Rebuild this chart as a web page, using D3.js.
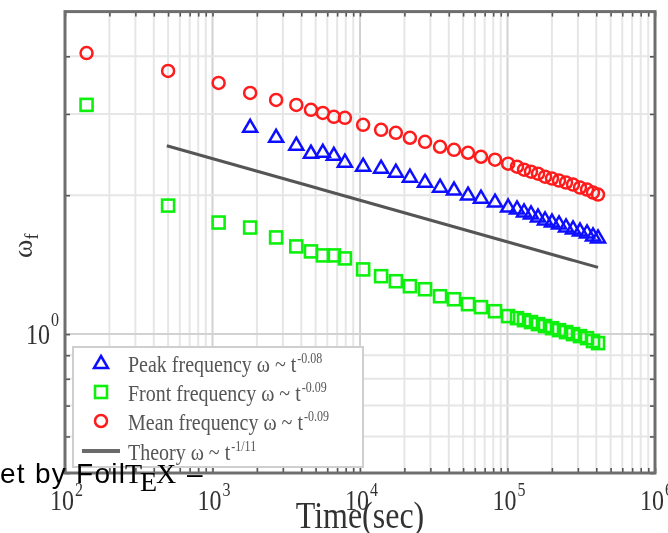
<!DOCTYPE html>
<html>
<head>
<script src="https://d3js.org/d3.v7.min.js"></script>
<style>
  body { margin: 0; background: #fff; }
</style>
</head>
<body>
<script>
// sample times (sec), shared by the three measured series
var time = [140, 500, 1100, 1800, 2700, 3700, 4650, 5600, 6650, 7900,
  10500, 13900, 17500, 21800, 27600, 34900, 43400, 54000, 66100, 82300,
  101000, 116000, 129400, 144300, 161000, 179600, 200300, 223500, 249300,
  278100, 310100, 346000, 379900, 410900];

// mean frequency (red circles)
var meanFreq = [4.066, 3.718, 3.502, 3.332, 3.218, 3.139, 3.062, 3.016, 2.957, 2.942,
  2.841, 2.772, 2.731, 2.664, 2.611, 2.547, 2.509, 2.472, 2.423, 2.388,
  2.341, 2.306, 2.272, 2.249, 2.227, 2.194, 2.173, 2.151, 2.130, 2.109,
  2.078, 2.057, 2.026, 2.006];

// front frequency (green squares)
var frontFreq = [3.139, 1.899, 1.745, 1.702, 1.620, 1.549, 1.511, 1.481, 1.481, 1.459,
  1.381, 1.335, 1.302, 1.270, 1.251, 1.208, 1.190, 1.161, 1.144, 1.121,
  1.094, 1.083, 1.072, 1.062, 1.051, 1.041, 1.030, 1.020, 1.010, 1.000,
  0.990, 0.980, 0.966, 0.956];

// peak frequency (blue triangles), no value for the first three times
var peakFreq = [null, null, null, 2.814, 2.677, 2.573, 2.472, 2.484, 2.447, 2.364,
  2.317, 2.294, 2.249, 2.194, 2.140, 2.087, 2.057, 2.006, 1.976, 1.937,
  1.890, 1.872, 1.844, 1.826, 1.798, 1.772, 1.754, 1.737, 1.711, 1.694,
  1.677, 1.661, 1.636, 1.620];

// theory line w ~ t^(-1/11)
var theoryTime = [490, 411000];
var theoryFreq = [2.56, 1.395];

var xLabelPowers = [2, 3, 4, 5, 6];
var yLabelPowers = [0];
var legendLabels = [
  {text: "Peak frequency \u03c9 ~ t", sup: "-0.08"},
  {text: "Front frequency \u03c9 ~ t", sup: "-0.09"},
  {text: "Mean frequency \u03c9 ~ t", sup: "-0.09"},
  {text: "Theory \u03c9 ~ t", sup: "-1/11"}
];

var W = 668, H = 533;
var pL = 65, pR = 655, pT = 11.6, pB = 473;
var serif = "'Liberation Serif', 'Times New Roman', serif";

var x = d3.scaleLog().domain([100, 1e6]).range([pL, pR]);
var y = d3.scaleLog().domain([0.5, 5]).range([pB, pT]);
function isMajor(d) { return Math.abs(Math.log10(d) - Math.round(Math.log10(d))) < 1e-9; }

var svg = d3.select("body").append("svg").attr("width", W).attr("height", H);
svg.append("defs").append("filter").attr("id", "soft")
  .attr("filterUnits", "userSpaceOnUse")
  .attr("x", 0).attr("y", 0).attr("width", W).attr("height", H)
  .append("feGaussianBlur").attr("stdDeviation", 0.75);

var g = svg.append("g").attr("filter", "url(#soft)");

// grid
g.selectAll(".vg").data(x.ticks()).join("line")
  .attr("x1", d => x(d)).attr("x2", d => x(d))
  .attr("y1", pT).attr("y2", pB)
  .attr("stroke", d => isMajor(d) ? "#d2d2d2" : "#e6e6e6")
  .attr("stroke-width", 2);
g.selectAll(".hg").data(y.ticks()).join("line")
  .attr("x1", pL).attr("x2", pR)
  .attr("y1", d => y(d)).attr("y2", d => y(d))
  .attr("stroke", d => isMajor(d) ? "#d2d2d2" : "#e6e6e6")
  .attr("stroke-width", 2);

// inner ticks on all four sides
function tickAxis(axis, tx, ty) {
  var a = g.append("g").attr("transform", "translate(" + tx + "," + ty + ")")
    .call(axis.tickFormat("").tickSizeOuter(0));
  a.select(".domain").remove();
  a.selectAll("text").remove();
  a.selectAll("line").attr("stroke", "#555").attr("stroke-width", 1.6);
  return a;
}
var xt = x.ticks(), yt = y.ticks();
tickAxis(d3.axisBottom(x).tickValues(xt).tickSize(-5), 0, pB);
tickAxis(d3.axisTop(x).tickValues(xt).tickSize(-5), 0, pT);
tickAxis(d3.axisLeft(y).tickValues(yt).tickSize(-5), pL, 0);
tickAxis(d3.axisRight(y).tickValues(yt).tickSize(-5), pR, 0);

// frame
g.append("rect").attr("x", pL).attr("y", pT)
  .attr("width", pR - pL).attr("height", pB - pT)
  .attr("fill", "none").attr("stroke", "#6e6e6e").attr("stroke-width", 3);

// theory line
g.append("path")
  .attr("d", d3.line().x(d => x(d[0])).y(d => y(d[1]))(d3.zip(theoryTime, theoryFreq)))
  .attr("stroke", "#555").attr("stroke-width", 3).attr("fill", "none");

var triPath = "M0,-7L7,5L-7,5Z";

// front frequency squares
g.selectAll(".front").data(d3.zip(time, frontFreq)).join("rect")
  .attr("x", d => x(d[0]) - 6).attr("y", d => y(d[1]) - 6)
  .attr("width", 12).attr("height", 12)
  .attr("fill", "none").attr("stroke", "#10f010").attr("stroke-width", 2.6);

// peak frequency triangles
g.selectAll(".peak").data(d3.zip(time, peakFreq).filter(d => d[1] != null)).join("path")
  .attr("d", triPath)
  .attr("transform", d => "translate(" + x(d[0]) + "," + y(d[1]) + ")")
  .attr("fill", "none").attr("stroke", "#1010ff").attr("stroke-width", 2.5);

// mean frequency circles
g.selectAll(".mean").data(d3.zip(time, meanFreq)).join("circle")
  .attr("cx", d => x(d[0])).attr("cy", d => y(d[1])).attr("r", 6)
  .attr("fill", "none").attr("stroke", "#ff1a1a").attr("stroke-width", 2.5);

// stretched text helper (figure text is taller than wide)
function sText(parent, px, py, str, size, anchor, color) {
  var t = parent.append("g").attr("transform", "translate(" + px + "," + py + ") scale(1,1.2)")
    .append("text").attr("font-family", serif).attr("font-size", size)
    .attr("text-anchor", anchor).attr("fill", color || "#333").text(str);
  return t;
}

// x tick labels
xLabelPowers.forEach(function(p) {
  var tx = x(Math.pow(10, p));
  sText(g, tx + 9, 510, "10", 24, "end");
  sText(g, tx + 10, 496, String(p), 16, "start");
});
// y tick labels
yLabelPowers.forEach(function(p) {
  var ty = y(Math.pow(10, p));
  sText(g, 50, ty + 10, "10", 24, "end");
  sText(g, 51, ty - 8, String(p), 16, "start");
});

// axis titles
sText(g, 360, 528, "Time(sec)", 32, "middle");
var yl = g.append("g").attr("transform", "translate(32,258) rotate(-90)")
  .append("text").attr("font-family", serif).attr("font-size", 28).attr("fill", "#333");
yl.append("tspan").text("\u03c9");
yl.append("tspan").attr("font-size", 18).attr("dy", 6).text("f");

// legend
var lg = g.append("g");
lg.append("rect").attr("x", 73).attr("y", 347).attr("width", 290).attr("height", 120)
  .attr("fill", "#fff").attr("stroke", "#cfcfcf").attr("stroke-width", 2);
var rowY = [363, 392, 421, 451];
lg.append("path").attr("d", triPath)
  .attr("transform", "translate(101," + rowY[0] + ")")
  .attr("fill", "none").attr("stroke", "#1010ff").attr("stroke-width", 2.5);
lg.append("rect").attr("x", 95).attr("y", rowY[1] - 6).attr("width", 12).attr("height", 12)
  .attr("fill", "none").attr("stroke", "#10f010").attr("stroke-width", 2.6);
lg.append("circle").attr("cx", 101).attr("cy", rowY[2]).attr("r", 6)
  .attr("fill", "none").attr("stroke", "#ff1a1a").attr("stroke-width", 2.5);
lg.append("line").attr("x1", 82).attr("x2", 120).attr("y1", rowY[3]).attr("y2", rowY[3])
  .attr("stroke", "#6a6a6a").attr("stroke-width", 4);

legendLabels.forEach(function(l, i) {
  var base = rowY[i] + 9;
  var t = sText(lg, 128, base, l.text, 20, "start", "#555");
  var w = t.node().getComputedTextLength();
  sText(lg, 129 + w, base - 9, l.sup, 12, "start", "#555");
});

// stray slide footer over the figure
var ft = svg.append("g");
ft.append("text").attr("x", 0).attr("y", 483)
  .attr("font-family", "'Liberation Sans', Arial, sans-serif").attr("font-size", 28)
  .attr("textLength", 125).attr("lengthAdjust", "spacing").attr("fill", "#000")
  .text("et by Foil");
ft.append("text").attr("x", 125).attr("y", 483).attr("font-family", serif)
  .attr("font-size", 28).attr("fill", "#000").text("T");
ft.append("text").attr("x", 140).attr("y", 491).attr("font-family", serif)
  .attr("font-size", 28).attr("fill", "#000").text("E");
ft.append("text").attr("x", 156).attr("y", 483).attr("font-family", serif)
  .attr("font-size", 28).attr("fill", "#000").text("X");
ft.append("text").attr("x", 187).attr("y", 483)
  .attr("font-family", "'Liberation Sans', Arial, sans-serif").attr("font-size", 28)
  .attr("fill", "#000").text("\u2013");
</script>
</body>
</html>
